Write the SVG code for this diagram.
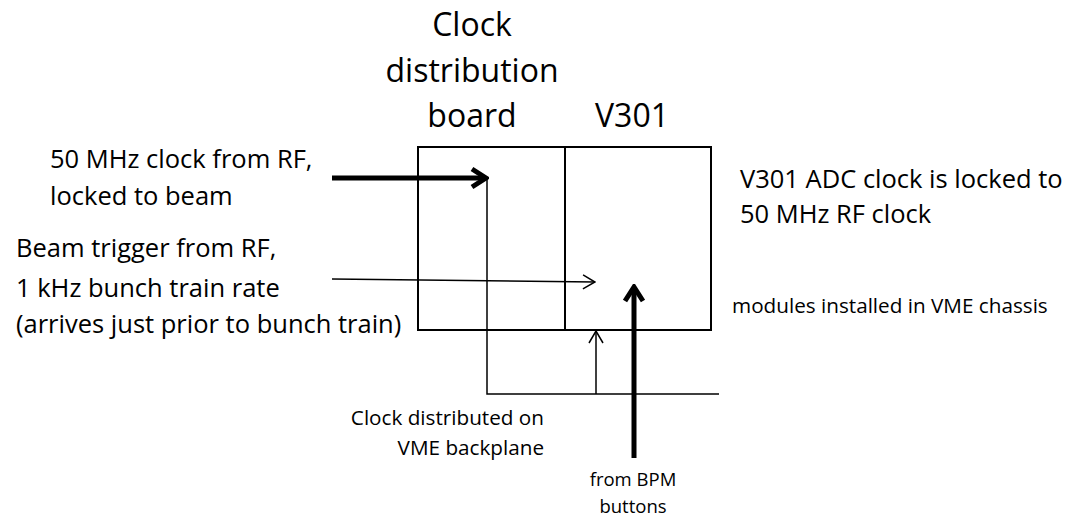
<svg xmlns="http://www.w3.org/2000/svg" width="1067" height="520" viewBox="0 0 1067 520">
<style>
text{font-family:"Open Sans","Liberation Sans",sans-serif;fill:#000}
.big{font-size:32px}
.mid{font-size:25.5px}
.sm{font-size:20.7px}
.xs{font-size:18.5px}
.box{fill:none;stroke:#000;stroke-width:2}
.thin{fill:none;stroke:#000;stroke-width:1.5}
.thick{fill:none;stroke:#000;stroke-width:5}
</style>
<defs>
<marker id="openThin" markerWidth="14" markerHeight="16" refX="13" refY="8" orient="auto" markerUnits="userSpaceOnUse"><path d="M1,1 L13,8 L1,15" fill="none" stroke="#000" stroke-width="1.5"/></marker>
<marker id="openThick" markerWidth="20" markerHeight="24" refX="17" refY="12" orient="auto" markerUnits="userSpaceOnUse"><path d="M3,3 L17,12 L3,21" fill="none" stroke="#000" stroke-width="5"/></marker>
</defs>
<rect width="1067" height="520" fill="#fff"/>
<g id="clock-board">
<rect class="box" x="418" y="147" width="147" height="183"/>
<text class="big" x="472" y="36" text-anchor="middle">Clock</text>
<text class="big" x="472" y="82" text-anchor="middle">distribution</text>
<text class="big" x="472" y="127" text-anchor="middle">board</text>
</g>
<g id="v301">
<rect class="box" x="565" y="147" width="146" height="183"/>
<text class="big" x="632" y="127" text-anchor="middle">V301</text>
</g>
<g id="labels">
<text class="mid" x="50" y="168">50 MHz clock from RF,</text>
<text class="mid" x="50" y="205">locked to beam</text>
<text class="mid" x="16" y="257">Beam trigger from RF,</text>
<text class="mid" x="16" y="297">1 kHz bunch train rate</text>
<text class="mid" x="16" y="333">(arrives just prior to bunch train)</text>
<text class="mid" x="740" y="188">V301 ADC clock is locked to</text>
<text class="mid" x="740" y="223">50 MHz RF clock</text>
<text class="sm" x="732" y="313">modules installed in VME chassis</text>
<text class="sm" x="544" y="425" text-anchor="end">Clock distributed on</text>
<text class="sm" x="544" y="455" text-anchor="end">VME backplane</text>
<text class="xs" x="633" y="486" text-anchor="middle">from BPM</text>
<text class="xs" x="633" y="513" text-anchor="middle">buttons</text>
</g>
<g id="connectors">
<line class="thick" x1="332" y1="178" x2="486" y2="178" marker-end="url(#openThick)"/>
<polyline class="thin" points="487,178 487,394 719,394"/>
<line class="thin" x1="332" y1="279" x2="595" y2="282" marker-end="url(#openThin)"/>
<line class="thin" x1="596" y1="394" x2="596" y2="331" marker-end="url(#openThin)"/>
<line class="thick" x1="634" y1="458" x2="634" y2="287" marker-end="url(#openThick)"/>
</g>
</svg>
